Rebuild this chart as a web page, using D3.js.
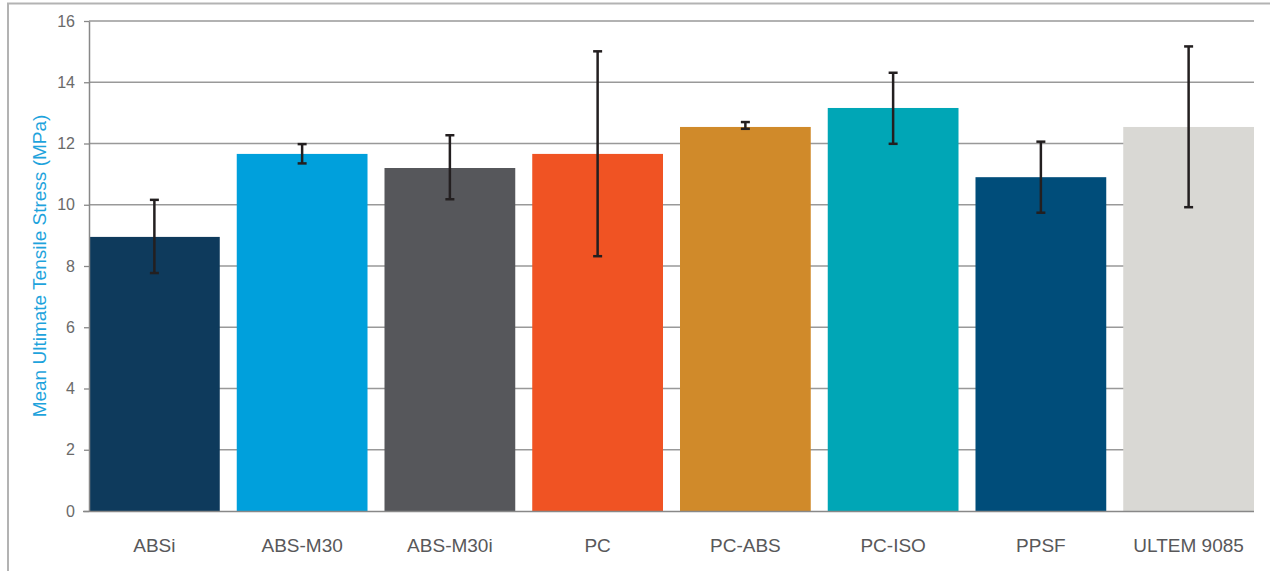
<!DOCTYPE html>
<html>
<head>
<meta charset="utf-8">
<script src="https://cdn.jsdelivr.net/npm/d3@7"></script>
<style>
  html, body { margin: 0; padding: 0; background: #fff; }
  svg { display: block; }
  text { font-family: "Liberation Sans", Arial, sans-serif; }
</style>
</head>
<body>
<svg id="chart" width="1270" height="571"></svg>
<script>
const categories = ["ABSi", "ABS-M30", "ABS-M30i", "PC", "PC-ABS", "PC-ISO", "PPSF", "ULTEM 9085"];
const means      = [8.95, 11.66, 11.2, 11.66, 12.54, 13.16, 10.9, 12.54];
const errHigh    = [10.16, 11.98, 12.27, 15.01, 12.70, 14.31, 12.06, 15.17];
const errLow     = [7.77, 11.35, 10.18, 8.32, 12.48, 11.99, 9.74, 9.92];
const barColors  = ["#0e3a5c", "#00a0dc", "#56575b", "#f05323", "#d08a2a", "#00a6b6", "#004d7a", "#d9d8d4"];
const yTicks     = [0, 2, 4, 6, 8, 10, 12, 14, 16];
const yTitle     = "Mean Ultimate Tensile Stress (MPa)";

const svg = d3.select("#chart");
const mLeft = 89, mRight = 1254, mTop = 21, mBottom = 511;

// frame
svg.append("path")
  .attr("d", `M8,571 L8,3.5 L1270,3.5`)
  .attr("fill", "none").attr("stroke", "#b3b3b3").attr("stroke-width", 2);

const x = d3.scaleBand().domain(categories).range([mLeft, mRight])
  .paddingInner(0.115).paddingOuter(0);
const y = d3.scaleLinear().domain([0, 16]).range([mBottom, mTop]);

// gridlines
svg.append("g").selectAll("line").data(yTicks.filter(d => d > 0)).join("line")
  .attr("x1", mLeft).attr("x2", mRight)
  .attr("y1", d => y(d)).attr("y2", d => y(d))
  .attr("stroke", "#999").attr("stroke-width", 1.3);

// bars
svg.append("g").selectAll("rect").data(categories).join("rect")
  .attr("x", d => x(d))
  .attr("width", x.bandwidth())
  .attr("y", (d, i) => y(means[i]))
  .attr("height", (d, i) => y(0) - y(means[i]))
  .attr("fill", (d, i) => barColors[i]);

// y axis
const yAxis = d3.axisLeft(y).tickValues(yTicks).tickSize(5).tickPadding(9).tickSizeOuter(0);
const gy = svg.append("g").attr("transform", `translate(${mLeft},0)`).call(yAxis);
gy.select(".domain").attr("stroke", "#888").attr("stroke-width", 1.5);
gy.selectAll(".tick line").attr("stroke", "#888").attr("stroke-width", 1.3);
gy.selectAll(".tick text").attr("fill", "#6a6a6a").style("font-size", "16px");

// x axis
const xAxis = d3.axisBottom(x).tickSize(0).tickPadding(28).tickSizeOuter(0);
const gx = svg.append("g").attr("transform", `translate(0,${mBottom})`).call(xAxis);
gx.select(".domain").attr("d", `M${mLeft - 6},0.5H${mRight}`).attr("stroke", "#888").attr("stroke-width", 1.3);
gx.selectAll(".tick text").attr("fill", "#58585a").style("font-size", "19px");

// error bars
const eb = svg.append("g").selectAll("g").data(categories).join("g")
  .attr("transform", d => `translate(${x(d) + x.bandwidth() / 2},0)`);
eb.append("line")
  .attr("y1", (d, i) => y(errHigh[i])).attr("y2", (d, i) => y(errLow[i]))
  .attr("stroke", "#231f20").attr("stroke-width", 2.5);
eb.append("line").attr("x1", -4.5).attr("x2", 4.5)
  .attr("y1", (d, i) => y(errHigh[i])).attr("y2", (d, i) => y(errHigh[i]))
  .attr("stroke", "#231f20").attr("stroke-width", 2.5);
eb.append("line").attr("x1", -4.5).attr("x2", 4.5)
  .attr("y1", (d, i) => y(errLow[i])).attr("y2", (d, i) => y(errLow[i]))
  .attr("stroke", "#231f20").attr("stroke-width", 2.5);

// y title
svg.append("text")
  .attr("transform", `translate(46,${(mTop + mBottom) / 2}) rotate(-90)`)
  .attr("text-anchor", "middle")
  .attr("fill", "#1ea3dc")
  .style("font-size", "19px")
  .text(yTitle);
</script>
</body>
</html>
